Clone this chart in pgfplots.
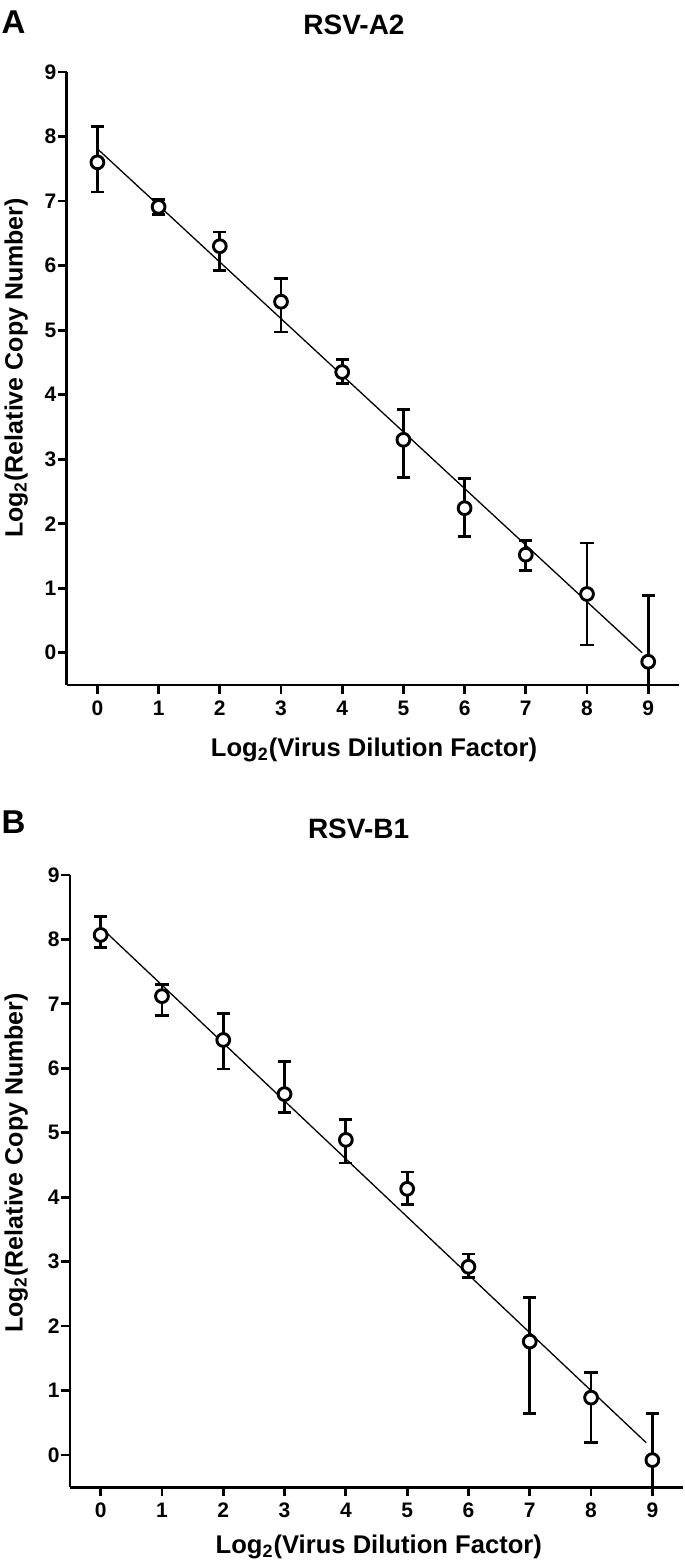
\documentclass[border=0pt]{standalone}
\usepackage{fontspec}
\setmainfont{Liberation Sans}
\usepackage{pgfplots}
\pgfplotsset{compat=1.18}
\usepackage{pgfplotstable}

% columns: dilution, mean, upper error, lower error
\pgfplotstableread{
x y ep em
0 7.60 0.55 0.46
1 6.91 0.12 0.12
2 6.30 0.22 0.37
3 5.44 0.36 0.47
4 4.35 0.19 0.18
5 3.30 0.47 0.58
6 2.24 0.46 0.44
7 1.52 0.22 0.25
8 0.91 0.79 0.79
9 -0.14 1.03 1.03
}\dataA

\pgfplotstableread{
x y ep em
0 8.07 0.28 0.19
1 7.12 0.18 0.30
2 6.44 0.41 0.45
3 5.60 0.50 0.28
4 4.89 0.31 0.36
5 4.13 0.26 0.24
6 2.92 0.20 0.16
7 1.76 0.68 1.12
8 0.89 0.39 0.70
9 -0.08 0.72 0.72
}\dataB

\pgfplotsset{
  rsv/.style={
    scale only axis, anchor=south west,
    axis lines=left, axis line style={-, line width=1.4pt},
    xmin=-0.5, xmax=9.5, ymin=-0.5, ymax=9,
    xtick={0,...,9}, ytick={0,...,9},
    tick align=outside, tick style={black, line width=1.4pt},
    major tick length=4.5pt,
    ticklabel style={font=\bfseries\fontsize{10.5}{12}\selectfont},
    yticklabel style={inner sep=0.5pt},
    /pgf/number format/assume math mode=true,
  },
  pts/.style={black, only marks, mark=*, mark size=3.2pt,
    mark options={fill=white, line width=1.45pt},
    error bars/.cd, y dir=both, y explicit,
    error bar style={line width=1.4pt},
    error mark options={rotate=90, mark size=3.3pt, line width=1.4pt}},
}

\begin{document}
\begin{tikzpicture}
\useasboundingbox (0,0) rectangle (342.5pt,782pt);

% panel A
\begin{axis}[rsv, at={(33.4pt,439.5pt)}, width=306pt, height=306.5pt]
  \addplot[black, line width=0.65pt, no marks] coordinates {(0,7.81) (8.9,0.0)};
  \addplot[pts] table[x=x, y=y, y error plus=ep, y error minus=em] {\dataA};
\end{axis}

% panel B
\begin{axis}[rsv, at={(35pt,38.4pt)}, width=306.5pt, height=306.1pt]
  \addplot[black, line width=0.65pt, no marks] coordinates {(0,8.19) (8.9,0.19)};
  \addplot[pts] table[x=x, y=y, y error plus=ep, y error minus=em] {\dataB};
\end{axis}

\node[anchor=base west, font=\bfseries\fontsize{16.5}{18}\selectfont, inner sep=0pt] at (0.6pt,765.3pt) {A};
\node[anchor=base, font=\bfseries\fontsize{14}{16}\selectfont] at (177pt,764.5pt) {RSV-A2};
\node[anchor=base west, font=\bfseries\fontsize{16.5}{18}\selectfont, inner sep=0pt] at (0.6pt,365.3pt) {B};
\node[anchor=base, font=\bfseries\fontsize{14}{16}\selectfont] at (179.3pt,362.8pt) {RSV-B1};

\node[anchor=base, font=\bfseries\fontsize{12.8}{14}\selectfont] at (187pt,403.65pt) {Log\textsubscript{2}(Virus Dilution Factor)};
\node[anchor=base, font=\bfseries\fontsize{12.8}{14}\selectfont] at (189.4pt,5.35pt) {Log\textsubscript{2}(Virus Dilution Factor)};

\node[rotate=90, anchor=base, font=\bfseries\fontsize{12.5}{14}\selectfont] at (11.35pt,598pt) {Log\textsubscript{2}(Relative Copy Number)};
\node[rotate=90, anchor=base, font=\bfseries\fontsize{12.5}{14}\selectfont] at (11.35pt,200.5pt) {Log\textsubscript{2}(Relative Copy Number)};
\end{tikzpicture}
\end{document}
